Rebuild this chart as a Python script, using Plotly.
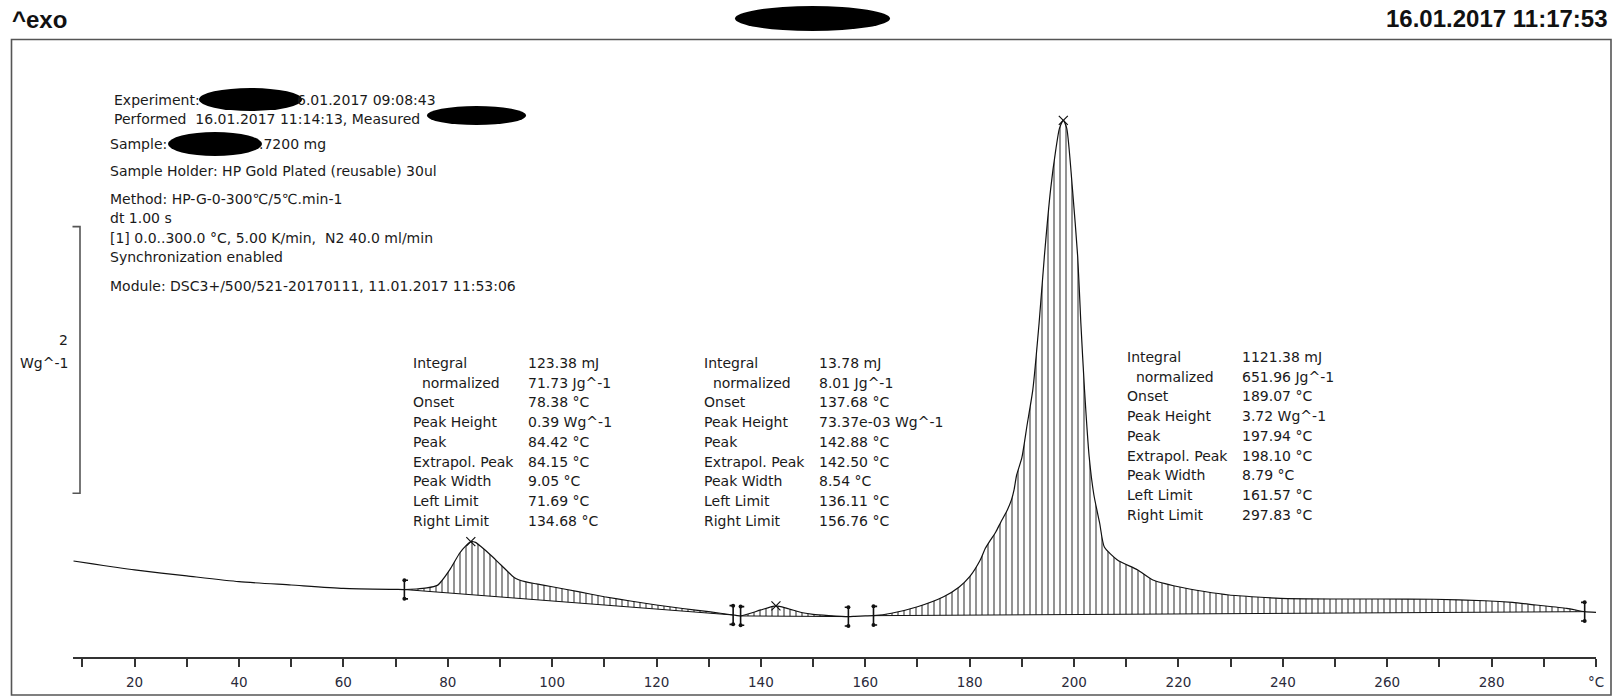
import numpy as np
import plotly.graph_objects as go

# ---------------- data ----------------
temp = [8.3, 12, 16, 20, 30, 40, 50, 60, 70, 71.69,
        74, 76, 78, 78.5, 80.4, 82.3, 83.5, 84.42, 85.3, 86.3, 88.2, 90.2, 92.8, 94.8, 97, 100,
        105, 110, 115, 120, 125, 130, 134.68,
        135.4, 136.11, 138, 140, 142.88, 145, 148, 150, 153, 156.76,
        158, 160, 161.57, 165, 170, 175, 178, 180, 182, 183, 184, 185, 186, 187, 188,
        188.5, 189, 190, 191, 192.1, 193.3, 194.3, 195.5, 196.5, 197.2, 197.94, 198.6,
        199.7, 200.7, 201.3, 202, 202.9, 203.8, 204.9, 205.8, 208.3, 212.2, 215.1, 220,
        225, 229.7, 235, 239.5, 249.3, 259.1, 268.9, 278.7, 284, 288.5, 294.4, 297.83, 300]
heat_flow = [0.405, 0.383, 0.360, 0.338, 0.293, 0.250, 0.225, 0.200, 0.192, 0.191,
             0.195, 0.203, 0.222, 0.240, 0.340, 0.465, 0.520, 0.550, 0.545, 0.515, 0.450, 0.375, 0.280, 0.250, 0.233, 0.212,
             0.175, 0.137, 0.105, 0.075, 0.049, 0.025, 0.000,
             -0.004, -0.007, 0.013, 0.038, 0.068, 0.050, 0.017, 0.005, -0.004, -0.012,
             -0.010, -0.007, -0.005, 0.013, 0.062, 0.137, 0.210, 0.287, 0.410, 0.500, 0.563, 0.623, 0.700, 0.770, 0.863,
             0.938, 1.050, 1.180, 1.425, 1.690, 2.190, 2.685, 3.190, 3.490, 3.650, 3.710, 3.650,
             3.190, 2.685, 2.190, 1.690, 1.185, 0.900, 0.690, 0.510, 0.413, 0.338, 0.263, 0.212,
             0.176, 0.150, 0.135, 0.125, 0.120, 0.120, 0.118, 0.107, 0.094, 0.075, 0.050, 0.025, 0.020]

peak_temps = [84.42, 142.88, 197.94]
left_limits = [71.69, 136.11, 161.57]
right_limits = [134.68, 156.76, 297.83]

row_labels = ["Integral", "\u00a0\u00a0normalized", "Onset", "Peak Height", "Peak",
              "Extrapol. Peak", "Peak Width", "Left Limit", "Right Limit"]
peak1_values = ["123.38 mJ", "71.73 Jg^-1", "78.38 °C", "0.39 Wg^-1", "84.42 °C",
                "84.15 °C", "9.05 °C", "71.69 °C", "134.68 °C"]
peak2_values = ["13.78 mJ", "8.01 Jg^-1", "137.68 °C", "73.37e-03 Wg^-1", "142.88 °C",
                "142.50 °C", "8.54 °C", "136.11 °C", "156.76 °C"]
peak3_values = ["1121.38 mJ", "651.96 Jg^-1", "189.07 °C", "3.72 Wg^-1", "197.94 °C",
                "198.10 °C", "8.79 °C", "161.57 °C", "297.83 °C"]

info_lines = [
    "Sample Holder: HP Gold Plated (reusable) 30ul",
    "Method: HP-G-0-300\u2103/5\u2103.min-1",
    "dt 1.00 s",
    "[1] 0.0..300.0 °C, 5.00 K/min, \u00a0N2 40.0 ml/min",
    "Synchronization enabled",
    "Module: DSC3+/500/521-20170111, 11.01.2017 11:53:06",
]

x_tick_vals = list(range(10, 301, 10))
x_tick_text = [str(v) if (v % 20 == 0 and v < 300) else "" for v in x_tick_vals]
x_tick_text[-1] = "°C"

# ---------------- layout geometry ----------------
W, H = 1613, 697
L, R, T, B = 73, 17, 40, 40
PW, PH = W - L - R, H - T - B


def px(x):
    return (x - L) / PW


def py(y):
    return (H - B - y) / PH


FONT = "DejaVu Sans"
TXT = "#1a1a1a"
SMOOTH = dict(shape="spline", smoothing=0.6)

t = np.array(temp)
f = np.array(heat_flow)
y_of = dict(zip(temp, heat_flow))

fig = go.Figure()

# hatched integration areas (curve slice closed by straight baseline)
for lo, hi in zip(left_limits, right_limits):
    m = (t >= lo) & (t <= hi)
    fig.add_trace(go.Scatter(
        x=t[m], y=f[m], mode="lines", fill="toself",
        fillcolor="rgba(0,0,0,0)",
        fillpattern=dict(shape="|", fgcolor="#111111", bgcolor="rgba(0,0,0,0)",
                         size=6, solidity=0.3),
        line=dict(width=0, color="rgba(0,0,0,0)", **SMOOTH),
        hoverinfo="skip", showlegend=False))
    fig.add_trace(go.Scatter(
        x=[lo, hi], y=[y_of[lo], y_of[hi]], mode="lines",
        line=dict(color="#111111", width=1), hoverinfo="skip", showlegend=False))

# main DSC curve
fig.add_trace(go.Scatter(x=t, y=f, mode="lines",
                         line=dict(color="#111111", width=1.2, **SMOOTH),
                         showlegend=False))

# limit brackets
bx, by, dx, dy = [], [], [], []
hh = 0.07
for lim, side in [(v, 1) for v in left_limits] + [(v, -1) for v in right_limits]:
    yc = y_of[lim]
    d = 0.7 * side
    bx += [lim + d, lim, lim, lim + d, None]
    by += [yc + hh, yc + hh, yc - hh, yc - hh, None]
    dx += [lim, lim]
    dy += [yc + hh, yc - hh]
fig.add_trace(go.Scatter(x=bx, y=by, mode="lines", line=dict(color="#111111", width=1.6),
                         showlegend=False, hoverinfo="skip"))
fig.add_trace(go.Scatter(x=dx, y=dy, mode="markers", marker=dict(color="#111111", size=4),
                         showlegend=False, hoverinfo="skip"))

# peak markers
fig.add_trace(go.Scatter(x=peak_temps, y=list(np.interp(peak_temps, t, f)), mode="markers",
                         marker=dict(symbol="x-thin", size=9, line=dict(width=1.2, color="#111111")),
                         showlegend=False, hoverinfo="skip"))

annotations = []


def txt(s, x, y, size=14, anchor="left", family=FONT, color=TXT):
    annotations.append(dict(text=s, x=px(x), y=py(y), xref="paper", yref="paper",
                            xanchor=anchor, yanchor="middle", showarrow=False,
                            font=dict(family=family, size=size, color=color)))


# header
txt("<b>^exo</b>", 10, 19, size=24, family="Liberation Sans, Arial", color="#111111")
txt("<b>16.01.2017 11:17:53</b>", 1610, 18, size=24, anchor="right",
    family="Liberation Sans, Arial", color="#111111")

# info block
txt("Experiment:", 112, 100)
txt("6.01.2017 09:08:43", 295, 100)
txt("Performed \u00a016.01.2017 11:14:13, Measured", 112, 119)
txt("Sample:", 108, 144)
txt(".7200 mg", 257, 144)
info_y = [171.5, 199, 218.5, 238, 257, 286]
for s, yy in zip(info_lines, info_y):
    txt(s, 108, yy)

# scale bar text
txt("2", 70, 340, anchor="right")
txt("Wg^-1", 70, 363, anchor="right")

# peak tables
tables = [(411, 526, 363, peak1_values), (702, 817, 363, peak2_values),
          (1125, 1240, 357, peak3_values)]
for lx, vx, y0, vals in tables:
    for i, (lab, val) in enumerate(zip(row_labels, vals)):
        yy = y0 + i * 19.7
        txt(lab, lx, yy)
        txt(val, vx, yy)

shapes = []
# outer frame
shapes.append(dict(type="rect", xref="paper", yref="paper", x0=px(11.5), x1=px(1611),
                   y0=py(695), y1=py(39.5), line=dict(color="#555555", width=1.6)))
# scale bar bracket (2 Wg^-1)
shapes.append(dict(type="path", xref="paper", yref="y",
                   path=f"M {px(72.5)} 2.913 L {px(80)} 2.913 L {px(80)} 0.913 L {px(72.5)} 0.913",
                   line=dict(color="#555555", width=1.6)))
# redaction blobs
for x0, x1, y0, y1 in [(735, 890, 6, 31), (199, 302, 88, 111), (427, 526, 106, 125),
                       (168, 262, 132, 156)]:
    shapes.append(dict(type="circle", xref="paper", yref="paper", x0=px(x0), x1=px(x1),
                       y0=py(y1), y1=py(y0), fillcolor="#000000", line=dict(width=0)))

fig.update_layout(
    width=W, height=H, margin=dict(l=L, r=R, t=T, b=B, autoexpand=False),
    paper_bgcolor="white", plot_bgcolor="white",
    showlegend=False, annotations=annotations, shapes=shapes,
    xaxis=dict(range=[8.2, 300], showgrid=False, zeroline=False, showline=True,
               linecolor="#333333", linewidth=1.8, ticks="outside", ticklen=8,
               tickwidth=1.5, tickcolor="#333333", tickvals=x_tick_vals,
               ticktext=x_tick_text, tickfont=dict(family=FONT, size=13.5, color="#2a2a3a"),
               ticklabelstandoff=4, automargin=False),
    yaxis=dict(range=[-0.315, 4.3125], visible=False, showgrid=False, zeroline=False,
               automargin=False),
)

fig.write_html("out.html", config={"displayModeBar": False},
               post_script="document.body.style.margin='0';")
